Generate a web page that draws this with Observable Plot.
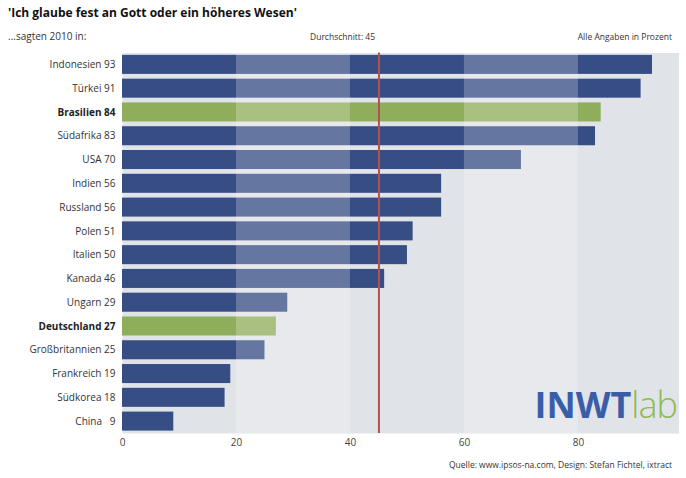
<!DOCTYPE html>
<html>
<head>
<meta charset="utf-8">
<script src="https://cdn.jsdelivr.net/npm/d3@7"></script>
<script src="https://cdn.jsdelivr.net/npm/@observablehq/plot@0.6"></script>
<style>
  body { margin: 0; background: #fff; font-family: "Open Sans", sans-serif; }
  #wrap { position: relative; width: 686px; height: 478px; overflow: hidden; }
  #header { position: relative; height: 46px; }
  .abs { position: absolute; white-space: nowrap; }
  #title { left: 8px; top: 4px; font-size: 12px; font-weight: bold; color: #111; }
  #sub { left: 8px; top: 29px; font-size: 10px; color: #333; }
  #avg { left: 310px; top: 31px; font-size: 8.5px; color: #333; }
  #unit { right: 14px; top: 31px; font-size: 8.5px; color: #333; }
  #caption { position: absolute; right: 14px; top: 459px; font-size: 8.5px; color: #333; }
  #logo { position: absolute; right: 9px; top: 387px; font-size: 36px; line-height: 1; }
  #logo .a { font-weight: bold; color: #3a5da8; }
  #logo .b { font-weight: 300; color: #8dbb4e; letter-spacing: -1px; }
  #chart svg { display: block; }
</style>
</head>
<body>
<div id="wrap">
  <div id="header">
    <div class="abs" id="title">'Ich glaube fest an Gott oder ein höheres Wesen'</div>
    <div class="abs" id="sub">...sagten 2010 in:</div>
    <div class="abs" id="avg">Durchschnitt: 45</div>
    <div class="abs" id="unit">Alle Angaben in Prozent</div>
  </div>
  <div id="chart"></div>
  <div id="logo"><span class="a">INWT</span><span class="b">lab</span></div>
  <div id="caption">Quelle: www.ipsos-na.com, Design: Stefan Fichtel, ixtract</div>
</div>
<script>
const countries = ["Indonesien","Türkei","Brasilien","Südafrika","USA","Indien","Russland","Polen","Italien","Kanada","Ungarn","Deutschland","Großbritannien","Frankreich","Südkorea","China"];
const values = [93,91,84,83,70,56,56,51,50,46,29,27,25,19,18,9];
const highlighted = ["Brasilien","Deutschland"];
const average = 45;
const xTicks = [0,20,40,60,80];
const bandStarts = [20,60];
const bandWidth = 20;

const data = countries.map((c,i) => ({
  country: c,
  value: values[i],
  label: c + "\u00a0" + (values[i] < 10 ? "\u00a0\u00a0" : "") + values[i],
  hi: highlighted.includes(c)
}));
const bands = bandStarts.map(s => ({x1: s, x2: s + bandWidth}));

const chart = Plot.plot({
  width: 686,
  height: 410,
  marginLeft: 122,
  marginRight: 7.5,
  marginTop: 6.5,
  marginBottom: 23,
  style: { fontFamily: "'Open Sans', sans-serif", background: "transparent" },
  x: { domain: [0, d3.max(values) * 1.05], ticks: xTicks, tickSize: 0, tickPadding: 5, label: null },
  y: { domain: data.map(d => d.label), axis: null, paddingInner: 0.2, paddingOuter: 0.1, round: false },
  marks: [
    Plot.frame({ fill: "#e0e3e7", stroke: null }),
    Plot.barX(data, { x: "value", y: "label", fill: d => d.hi ? "#8fae5b" : "#374e85" }),
    Plot.rectX(bands, { x1: "x1", x2: "x2", fill: "white", fillOpacity: 0.23 }),
    Plot.ruleX([average], { stroke: "#b5514f", strokeWidth: 2 }),
    Plot.text(data.filter(d => !d.hi), { y: "label", text: "label", frameAnchor: "left", dx: -7, textAnchor: "end", fontSize: 10, fill: "#333" }),
    Plot.text(data.filter(d => d.hi), { y: "label", text: "label", frameAnchor: "left", dx: -7, textAnchor: "end", fontSize: 10, fontWeight: "bold", fill: "#222" }),
    Plot.axisX({ ticks: xTicks, tickSize: 0, tickPadding: 5, fontSize: 10, fill: "#444", label: null })
  ]
});
document.getElementById("chart").appendChild(chart);
</script>
</body>
</html>
